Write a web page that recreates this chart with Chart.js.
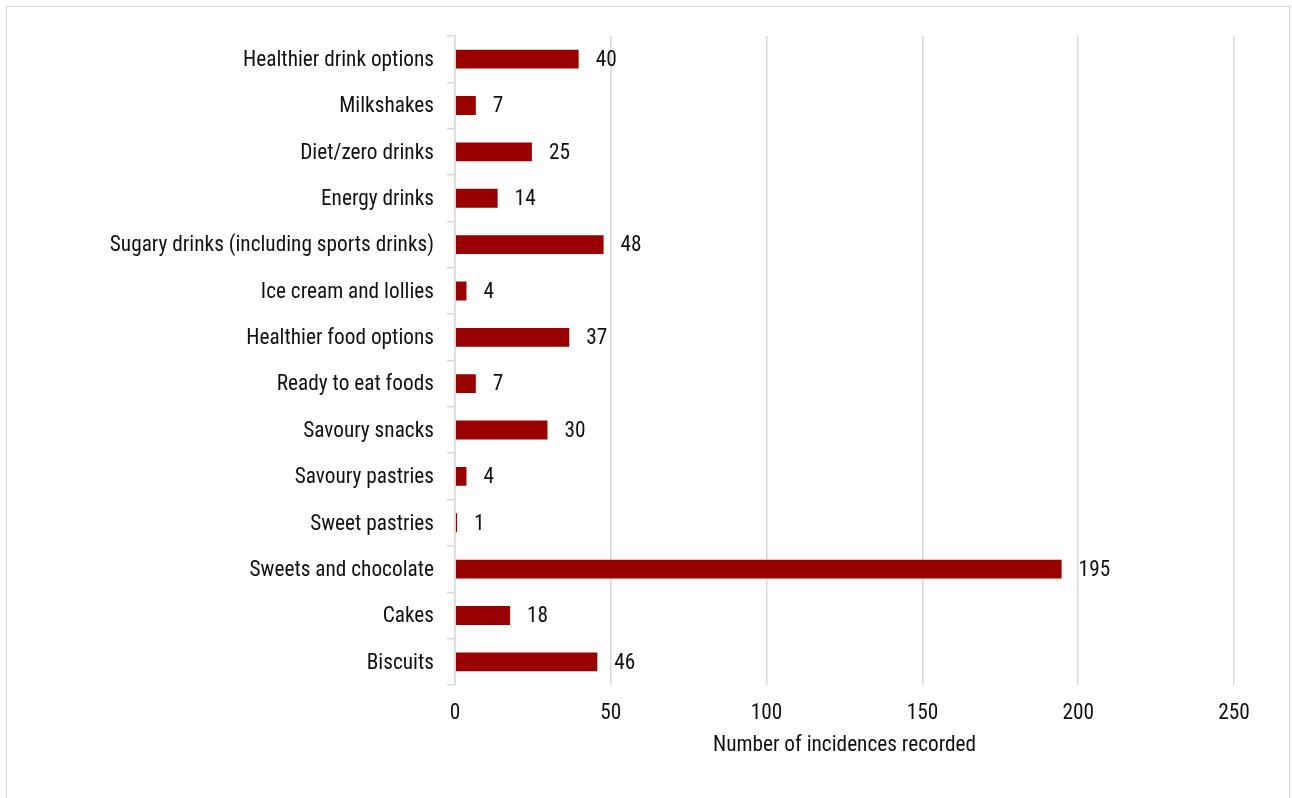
<!DOCTYPE html>
<html>
<head>
<meta charset="utf-8">
<script src="https://cdn.jsdelivr.net/npm/chart.js@4.4.1/dist/chart.umd.min.js"></script>
<style>
  html, body { margin: 0; padding: 0; background: #fff; }
  #frame { position: absolute; left: 6px; top: 6px; width: 1284px; height: 800px; border: 1.5px solid #d9d9d9; box-sizing: border-box; }
  #wrap { position: absolute; left: 0; top: 0; width: 1292px; height: 798px; }
</style>
</head>
<body>
<div id="frame"></div>
<div id="wrap"><canvas id="incidenceChart" width="1292" height="798"></canvas></div>
<script>
// Product categories, top to bottom
const categories = [
  'Healthier drink options',
  'Milkshakes',
  'Diet/zero drinks',
  'Energy drinks',
  'Sugary drinks (including sports drinks)',
  'Ice cream and lollies',
  'Healthier food options',
  'Ready to eat foods',
  'Savoury snacks',
  'Savoury pastries',
  'Sweet pastries',
  'Sweets and chocolate',
  'Cakes',
  'Biscuits'
];
const incidences = [40, 7, 25, 14, 48, 4, 37, 7, 30, 4, 1, 195, 18, 46];
const axisTicks = [0, 50, 100, 150, 200, 250];

const FONT_FAMILY = "'Roboto Condensed', Roboto, sans-serif";
const FONT_SIZE = 21.3;
const GRID = '#d9d9d9';
const TEXT = '#111111';

// value labels to the right of each bar
const barValueLabels = {
  id: 'barValueLabels',
  afterDatasetsDraw(chart) {
    const ctx = chart.ctx;
    const meta = chart.getDatasetMeta(0);
    ctx.save();
    ctx.font = FONT_SIZE + 'px ' + FONT_FAMILY;
    ctx.fillStyle = TEXT;
    ctx.textAlign = 'left';
    ctx.textBaseline = 'middle';
    meta.data.forEach((bar, i) => {
      ctx.fillText(String(incidences[i]), bar.x + 16, bar.y + 1.5);
    });
    ctx.restore();
  }
};

new Chart(document.getElementById('incidenceChart'), {
  type: 'bar',
  data: {
    labels: categories,
    datasets: [{
      data: incidences,
      backgroundColor: '#990000',
      borderColor: '#ffffff',
      borderWidth: 1,
      barPercentage: 0.45,
      categoryPercentage: 1
    }]
  },
  options: {
    indexAxis: 'y',
    responsive: false,
    animation: false,
    layout: { padding: { top: 36, right: 58, left: 0, bottom: 0 } },
    plugins: {
      legend: { display: false },
      tooltip: { enabled: false }
    },
    scales: {
      x: {
        min: 0,
        max: 250,
        afterBuildTicks: scale => { scale.ticks = axisTicks.map(v => ({ value: v })); },
        afterFit: scale => { scale.height = 113; },
        grid: { color: GRID, lineWidth: 1.5, drawTicks: false },
        border: { display: false },
        ticks: { color: TEXT, padding: 16, font: { family: FONT_FAMILY, size: FONT_SIZE } },
        title: {
          display: true,
          text: 'Number of incidences recorded',
          color: TEXT,
          padding: 40,
          font: { family: FONT_FAMILY, size: FONT_SIZE }
        }
      },
      y: {
        afterFit: scale => { scale.width = 455; },
        grid: { color: GRID, lineWidth: 1.5, drawOnChartArea: false, drawTicks: true, tickLength: 8, offset: true },
        border: { display: true, color: GRID, width: 1.5 },
        ticks: { color: TEXT, padding: 13, labelOffset: 1.5, font: { family: FONT_FAMILY, size: FONT_SIZE } }
      }
    }
  },
  plugins: [barValueLabels]
});
</script>
</body>
</html>
